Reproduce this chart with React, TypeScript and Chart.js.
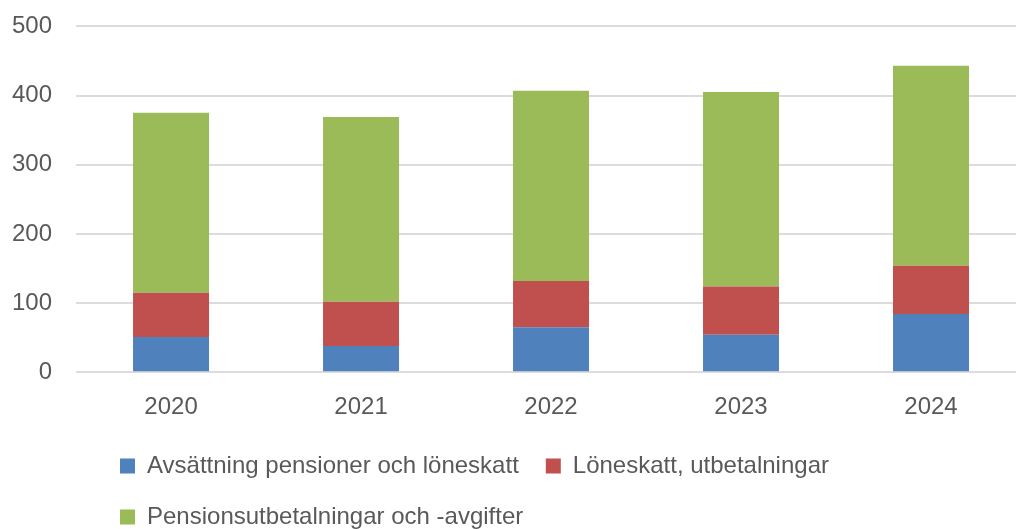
import React, { useEffect, useRef } from "react";
import { Chart, registerables } from "chart.js";

Chart.register(...registerables);

const categories = ["2020", "2021", "2022", "2023", "2024"];
const seriesNames = [
  "Avsättning pensioner och löneskatt",
  "Löneskatt, utbetalningar",
  "Pensionsutbetalningar och -avgifter",
];
const avsattning = [51, 38, 65, 54, 84];
const loneskatt = [64, 64, 67, 70, 70];
const pensionsutbetalningar = [260, 267, 275, 281, 289];
const yTicks = [0, 100, 200, 300, 400, 500];

const colors = ["#4F81BD", "#C0504D", "#9BBB59"];
const FONT = "'Liberation Sans', Arial, sans-serif";
const TEXT = "#595959";

const legendShift = {
  id: "legendShift",
  beforeDraw(chart: any) {
    if (chart.legend) {
      chart.legend.left = 105;
      chart.legend.top = 439;
    }
  },
};

export default function App() {
  const ref = useRef<HTMLCanvasElement | null>(null);
  useEffect(() => {
    if (!ref.current) return;
    const chart = new Chart(ref.current, {
      type: "bar",
      data: {
        labels: categories,
        datasets: [
          { label: seriesNames[0], data: avsattning, backgroundColor: colors[0] },
          { label: seriesNames[1], data: loneskatt, backgroundColor: colors[1] },
          { label: seriesNames[2], data: pensionsutbetalningar, backgroundColor: colors[2] },
        ],
      },
      options: {
        animation: false,
        responsive: true,
        maintainAspectRatio: false,
        datasets: { bar: { barPercentage: 0.4, categoryPercentage: 1 } },
        layout: { padding: { left: 0, right: 4, top: 10, bottom: 0 } },
        scales: {
          x: {
            stacked: true,
            grid: { display: false, drawTicks: false },
            border: { display: false },
            ticks: {
              color: TEXT,
              padding: 21,
              font: { family: FONT, size: 24 },
            },
          },
          y: {
            stacked: true,
            min: 0,
            max: 500,
            afterBuildTicks(scale: any) {
              scale.ticks = yTicks.map((v) => ({ value: v }));
            },
            grid: { color: "#dcdcdc", lineWidth: 2, drawTicks: false },
            border: { display: false },
            ticks: {
              color: TEXT,
              padding: 24,
              font: { family: FONT, size: 24 },
            },
          },
        },
        plugins: {
          tooltip: { enabled: false },
          legend: {
            position: "bottom",
            align: "start",
            labels: {
              color: TEXT,
              boxWidth: 15,
              boxHeight: 15,
              padding: 27,
              font: { family: FONT, size: 24 },
            },
          },
        },
      },
      plugins: [legendShift],
    });
    return () => chart.destroy();
  }, []);
  return (
    <div
      style={{
        position: "fixed",
        left: 0,
        top: 0,
        width: 1016,
        height: 529,
        overflow: "hidden",
        background: "#fff",
      }}
    >
      <div style={{ position: "absolute", left: -12, top: -12, width: 1042, height: 567 }}>
        <canvas ref={ref} />
      </div>
    </div>
  );
}
